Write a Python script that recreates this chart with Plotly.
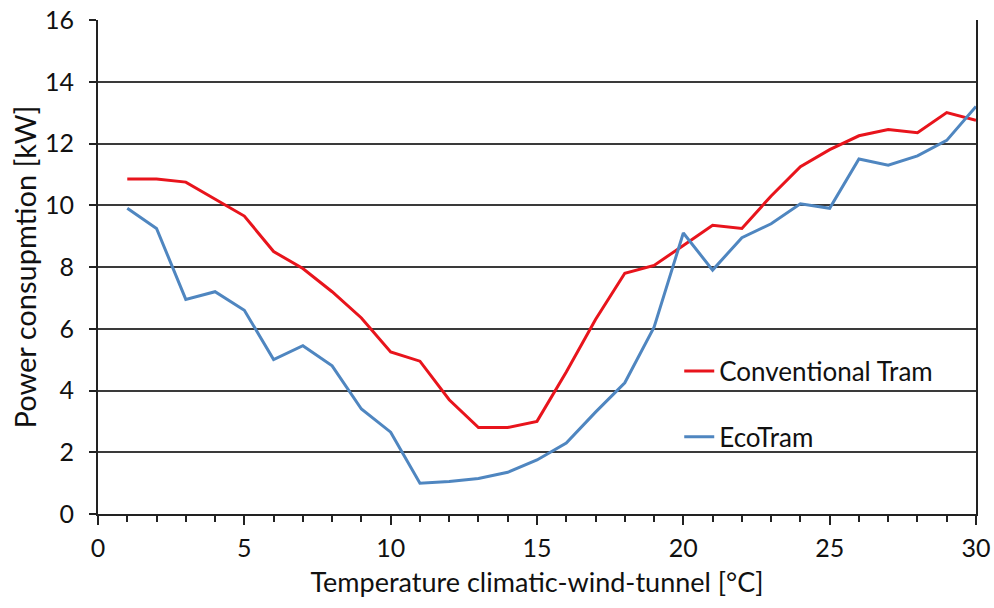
import plotly.graph_objects as go

temperature = list(range(1, 31))
conventional_tram = [10.85, 10.85, 10.75, 10.2, 9.65, 8.5, 7.95, 7.2, 6.35, 5.25,
                     4.95, 3.7, 2.8, 2.8, 3.0, 4.6, 6.3, 7.8, 8.05, 8.7,
                     9.35, 9.25, 10.3, 11.25, 11.8, 12.25, 12.45, 12.35, 13.0, 12.75]
eco_tram = [9.9, 9.25, 6.95, 7.2, 6.6, 5.0, 5.45, 4.8, 3.4, 2.65,
            1.0, 1.05, 1.15, 1.35, 1.75, 2.3, 3.3, 4.25, 6.05, 9.1,
            7.9, 8.95, 9.4, 10.05, 9.9, 11.5, 11.3, 11.6, 12.1, 13.2]

FONT = "Lato, 'Open Sans', sans-serif"

fig = go.Figure()
fig.add_trace(go.Scatter(x=temperature, y=conventional_tram, mode="lines",
                         name="Conventional Tram", legendgroup="a",
                         line=dict(color="#e8141c", width=3)))
fig.add_trace(go.Scatter(x=temperature, y=eco_tram, mode="lines",
                         name="EcoTram", legendgroup="b",
                         line=dict(color="#4f86c0", width=3)))

fig.update_layout(
    width=994, height=608,
    margin=dict(l=98, r=18, t=20, b=94, autoexpand=False),
    paper_bgcolor="white", plot_bgcolor="white",
    font=dict(family=FONT, color="#111", size=22),
    legend=dict(x=0.662, y=0.337, xanchor="left", yanchor="top",
                font=dict(size=26, family=FONT), tracegroupgap=29,
                traceorder="grouped", bgcolor="rgba(0,0,0,0)"),
    xaxis=dict(range=[0, 30], dtick=5, tick0=0, automargin=False,
               showline=True, linecolor="#222", linewidth=2,
               ticks="outside", ticklen=9, tickwidth=1.5, tickcolor="#222",
               minor=dict(dtick=1, ticks="outside", ticklen=6, tickwidth=1.5, tickcolor="#222", showgrid=False),
               showgrid=False, zeroline=False, ticklabelstandoff=2,
               ticklabeloverflow="allow",
               title=dict(text="Temperature climatic-wind-tunnel [°C]", font=dict(size=27), standoff=12),
               tickfont=dict(size=25)),
    yaxis=dict(range=[0, 16], dtick=2, automargin=False,
               showline=True, linecolor="#222", linewidth=2, mirror=True,
               ticks="outside", ticklen=7, tickwidth=1.5, tickcolor="#222",
               showgrid=True, gridcolor="#3a3a3a", gridwidth=1.5, zeroline=False,
               ticklabelstandoff=10, ticklabeloverflow="allow",
               title=dict(text="Power consupmtion [kW]", font=dict(size=29), standoff=0),
               tickfont=dict(size=25)),
)

fig.write_html("out.html", config={"displayModeBar": False},
               post_script="document.body.style.margin='0';")
